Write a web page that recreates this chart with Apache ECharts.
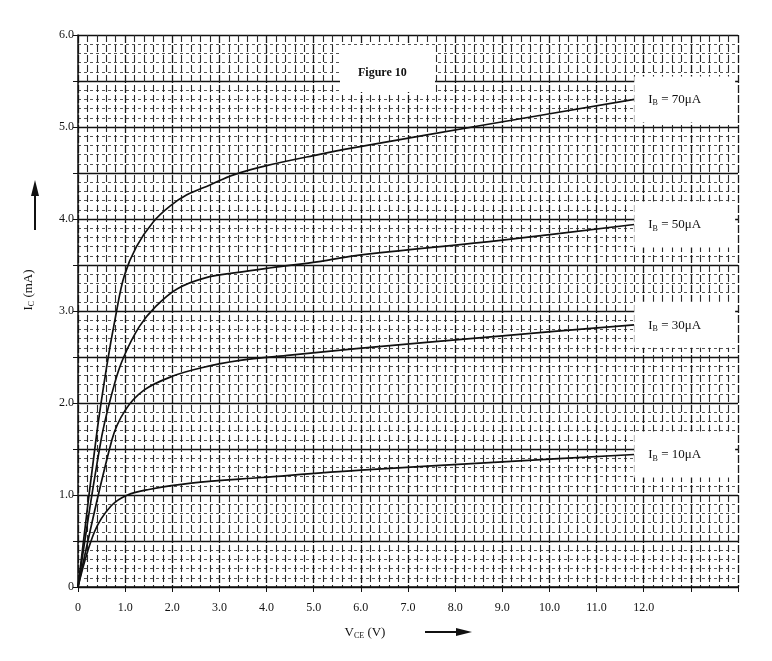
<!DOCTYPE html>
<html lang="en">
<head>
<meta charset="UTF-8">
<title>Figure 10</title>
<script src="https://cdn.jsdelivr.net/npm/echarts@6/dist/echarts.min.js"></script>
<style>
  html, body { margin: 0; padding: 0; background: #fff; }
  #chart { width: 772px; height: 661px; }
</style>
</head>
<body>
<div id="chart"></div>
<script>
// V_CE (V), I_C (mA)
var ib10 = [[0, 0], [0.35, 0.6], [0.7, 0.88], [1.05, 1.0], [1.5, 1.06], [2.4, 1.13], [3.9, 1.19], [6.0, 1.27], [9.0, 1.36], [11.8, 1.44]];
var ib30 = [[0, 0], [0.72, 1.6], [1.0, 1.92], [1.4, 2.14], [2.0, 2.29], [2.6, 2.38], [3.4, 2.46], [4.5, 2.52], [5.9, 2.59], [9.0, 2.73], [11.8, 2.85]];
var ib50 = [[0, 0], [0.49, 1.6], [0.77, 2.2], [0.97, 2.5], [1.3, 2.83], [1.65, 3.05], [2.1, 3.24], [2.7, 3.36], [3.4, 3.42], [4.1, 3.47], [5.15, 3.54], [5.85, 3.6], [9.0, 3.77], [11.8, 3.94]];
var ib70 = [[0, 0], [0.38, 1.6], [0.61, 2.4], [0.8, 2.95], [0.98, 3.38], [1.24, 3.7], [1.6, 3.97], [1.95, 4.14], [2.3, 4.26], [2.8, 4.37], [3.3, 4.48], [4.0, 4.58], [5.1, 4.7], [5.8, 4.77], [8.7, 5.03], [11.8, 5.3]];
var baseCurrents = ['10', '30', '50', '70'];
var xTickLabels = ['0', '1.0', '2.0', '3.0', '4.0', '5.0', '6.0', '7.0', '8.0', '9.0', '10.0', '11.0', '12.0'];
var yTickLabels = ['0', '1.0', '2.0', '3.0', '4.0', '5.0', '6.0'];

var serif = '"Liberation Serif", "DejaVu Serif", serif';
var ink = '#111';

function curve(data, ib) {
    return {
        type: 'line',
        data: data,
        showSymbol: false,
        smooth: 0.35,
        lineStyle: { color: ink, width: 1.7 },
        silent: true,
        endLabel: {
            show: true,
            distance: 0,
            formatter: '{i|I}{s|B}{i| = ' + ib + 'μA}',
            backgroundColor: '#fff',
            padding: [16, 34, 15, 14],
            rich: {
                i: { fontFamily: serif, fontSize: 13, color: ink },
                s: { fontFamily: serif, fontSize: 8, color: ink, verticalAlign: 'bottom', padding: [7, 0, 0, 0] }
            }
        }
    };
}

var myChart = echarts.init(document.getElementById('chart'));
myChart.setOption({
    backgroundColor: '#fff',
    animation: false,
    grid: { left: 78, right: 34, top: 35, bottom: 74 },
    xAxis: {
        type: 'value',
        min: 0,
        max: 14,
        interval: 1,
        name: '{t|V}{s|CE}{t| (V)}',
        nameLocation: 'middle',
        nameGap: 38,
        nameTextStyle: {
            padding: [0, 86, 0, 0],
            rich: {
                t: { fontFamily: serif, fontSize: 13, color: ink },
                s: { fontFamily: serif, fontSize: 8, color: ink, verticalAlign: 'bottom', padding: [7, 0, 0, 0] }
            }
        },
        axisLine: { lineStyle: { color: ink, width: 1.5 } },
        axisTick: { show: true, length: 5, lineStyle: { color: ink } },
        axisLabel: {
            margin: 15,
            fontFamily: serif,
            fontSize: 12,
            color: ink,
            formatter: function (v) {
                return Number.isInteger(v) && v < xTickLabels.length ? xTickLabels[v] : '';
            }
        },
        splitLine: { show: true, lineStyle: { color: '#1a1a1a', width: 1.3, type: [8, 2] } },
        minorTick: { show: false, splitNumber: 5 },
        minorSplitLine: { show: true, lineStyle: { color: '#2a2a2a', width: 1.1, type: [7, 3] } }
    },
    yAxis: {
        type: 'value',
        min: 0,
        max: 6,
        interval: 0.5,
        name: '{t|I}{s|C}{t| (mA)}',
        nameLocation: 'middle',
        nameGap: 42,
        nameRotate: 90,
        nameTextStyle: {
            padding: [0, 0, 0, 42],
            rich: {
                t: { fontFamily: serif, fontSize: 13, color: ink },
                s: { fontFamily: serif, fontSize: 8, color: ink, verticalAlign: 'bottom', padding: [7, 0, 0, 0] }
            }
        },
        axisLine: { show: true, lineStyle: { color: ink, width: 1.5 } },
        axisTick: { show: true, length: 5, lineStyle: { color: ink } },
        axisLabel: {
            margin: 4,
            fontFamily: serif,
            fontSize: 12,
            color: ink,
            formatter: function (v) {
                return Number.isInteger(v) ? yTickLabels[v] : '';
            }
        },
        splitLine: { show: true, lineStyle: { color: ink, width: 1.4 } },
        minorTick: { show: false, splitNumber: 5 },
        minorSplitLine: { show: true, lineStyle: { color: '#555', width: 1, type: [3, 3] } }
    },
    series: [
        curve(ib10, baseCurrents[0]),
        curve(ib30, baseCurrents[1]),
        curve(ib50, baseCurrents[2]),
        curve(ib70, baseCurrents[3])
    ],
    graphic: [
        // "Figure 10" caption box
        {
            type: 'rect', z: 20, left: 340, top: 45,
            shape: { width: 95, height: 47 },
            style: { fill: '#fff' }
        },
        {
            type: 'text', z: 21, left: 358, top: 67,
            style: { text: 'Figure 10', font: 'bold 12px ' + serif, fill: ink }
        },
        // axis arrows
        {
            type: 'line', z: 20,
            shape: { x1: 35, y1: 230, x2: 35, y2: 192 },
            style: { stroke: ink, lineWidth: 2 }
        },
        {
            type: 'polygon', z: 20,
            shape: { points: [[35, 180], [31, 196], [39, 196]] },
            style: { fill: ink }
        },
        {
            type: 'line', z: 20,
            shape: { x1: 425, y1: 632, x2: 458, y2: 632 },
            style: { stroke: ink, lineWidth: 2 }
        },
        {
            type: 'polygon', z: 20,
            shape: { points: [[472, 632], [456, 628], [456, 636]] },
            style: { fill: ink }
        }
    ]
});
</script>
</body>
</html>
